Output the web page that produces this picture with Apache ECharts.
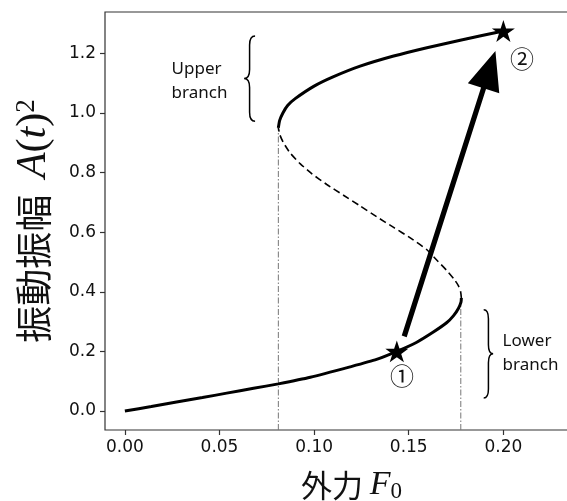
<!DOCTYPE html>
<html>
<head>
<meta charset="utf-8">
<script src="https://cdn.jsdelivr.net/npm/echarts@6/dist/echarts.min.js"></script>
<style>
html,body{margin:0;padding:0;background:#fff;overflow:hidden;width:567px;height:501px;}
#chart{width:598px;height:501px;}
</style>
</head>
<body>
<div id="chart"></div>
<script>
// ---- data ----
const xTickValues = [0, 0.05, 0.10, 0.15, 0.20];
const yTickValues = [0, 0.2, 0.4, 0.6, 0.8, 1.0, 1.2];

// stable lower branch (F0, A^2)
const lowerBranch = [
  [0.0000, 0.000], [0.0140, 0.015], [0.0273, 0.030], [0.0410, 0.045],
  [0.0538, 0.060], [0.0680, 0.076], [0.0811, 0.091], [0.0980, 0.113],
  [0.1190, 0.148], [0.1330, 0.173], [0.1437, 0.200], [0.1540, 0.230],
  [0.1630, 0.265], [0.1700, 0.296], [0.1737, 0.320], [0.1763, 0.345],
  [0.1776, 0.365], [0.1778, 0.379]
];
// unstable middle branch (dashed)
const middleBranch = [
  [0.1778, 0.379], [0.1774, 0.400], [0.1762, 0.421], [0.1740, 0.442],
  [0.1700, 0.472], [0.1650, 0.505], [0.1596, 0.541], [0.1510, 0.580],
  [0.1420, 0.616], [0.1330, 0.652], [0.1243, 0.688], [0.1155, 0.724],
  [0.1067, 0.760], [0.0990, 0.795], [0.0926, 0.830], [0.0873, 0.866],
  [0.0838, 0.900], [0.0820, 0.925], [0.0811, 0.950]
];
// stable upper branch
const upperBranch = [
  [0.0811, 0.950], [0.0818, 0.975], [0.0835, 1.000], [0.0860, 1.025],
  [0.0900, 1.048], [0.1000, 1.090], [0.1100, 1.121], [0.1243, 1.157],
  [0.1420, 1.191], [0.1596, 1.219], [0.1772, 1.244], [0.2000, 1.275]
];
// jump thresholds: [F0, A^2 at the turning point]
const thresholdLines = [[0.0811, 0.950], [0.1775, 0.379]];
// star markers
const starPoints = [[0.1437, 0.200], [0.2000, 1.275]];
// circled numbers
const circledText = ['\u2460', '\u2461'];
const circledPos = [[0.1464, 0.118], [0.2099, 1.182]];
// jump arrow [x0, y0, xTip, yTip]
const jumpArrow = [[0.1476, 0.2505, 0.1958, 1.2075]];
// braces [xEnd, yTop, yBottom, xTip]
const braces = [[0.0688, 1.258, 0.9725, 0.0630], [0.1896, 0.340, 0.0437, 0.1946]];
// branch annotations
const branchText = ['Upper\nbranch', 'Lower\nbranch'];
const branchPos = [[0.0247, 1.106], [0.1996, 0.194]];

const xMin = -0.0105, xMax = 0.25;
const yMin = -0.06375, yMax = 1.33875;

const chart = echarts.init(document.getElementById('chart'), null, {renderer: 'canvas'});

const INK = '#111';
const SPINE = '#333';

const starPath = 'path://M50 0 L61.23 34.55 L97.55 34.55 L68.17 55.9 L79.39 90.45 L50 69.1 L20.61 90.45 L31.83 55.9 L2.45 34.55 L38.77 34.55 Z';

const thresholdSeries = thresholdLines.map(function (t) {
  return {
    type: 'line', data: [[t[0], yMin], [t[0], t[1]]], symbol: 'none', silent: true, z: 1,
    lineStyle: {color: '#777', width: 1, type: [6, 2, 1.5, 2]}
  };
});

const option = {
  animation: false,
  backgroundColor: '#fff',
  grid: {left: 105, top: 12, bottom: 71, right: 0, outerBoundsMode: 'none', containLabel: false,
         show: true, borderColor: SPINE, borderWidth: 1.2, backgroundColor: 'transparent'},
  xAxis: {
    type: 'value', min: xMin, max: xMax,
    axisLine: {show: false, onZero: false},
    splitLine: {show: false},
    axisTick: {show: true, customValues: xTickValues, length: 5, lineStyle: {color: SPINE, width: 1.2}},
    axisLabel: {customValues: xTickValues, margin: 9, color: INK, fontFamily: 'DejaVu Sans', fontSize: 17,
      formatter: function (v) { return v.toFixed(2); }},
    name: '{c|外力 }{m|F}{s|0}',
    nameLocation: 'middle', nameGap: 37,
    nameTextStyle: {
      rich: {
        c: {fontFamily: 'Noto Sans CJK JP', fontSize: 31, color: INK, lineHeight: 36},
        m: {fontFamily: 'Liberation Serif', fontStyle: 'italic', fontSize: 34, color: INK, lineHeight: 36},
        s: {fontFamily: 'Liberation Serif', fontSize: 23, color: INK, verticalAlign: 'bottom', lineHeight: 10}
      }
    }
  },
  yAxis: {
    type: 'value', min: yMin, max: yMax,
    axisLine: {show: false, onZero: false},
    splitLine: {show: false},
    axisTick: {show: true, customValues: yTickValues, length: 5, lineStyle: {color: SPINE, width: 1.2}},
    axisLabel: {customValues: yTickValues, margin: 9, color: INK, fontFamily: 'DejaVu Sans', fontSize: 17,
      formatter: function (v) { return v.toFixed(1); }},
    name: '{c|振動振幅  }{m|A}{r|(}{m|t}{r|)}{p|2}',
    nameLocation: 'middle', nameGap: 50, nameRotate: 90,
    nameTextStyle: {
      rich: {
        c: {fontFamily: 'Noto Sans CJK JP', fontSize: 37, color: INK, lineHeight: 42},
        m: {fontFamily: 'Liberation Serif', fontStyle: 'italic', fontSize: 42, color: INK, lineHeight: 42},
        r: {fontFamily: 'Liberation Serif', fontSize: 42, color: INK, lineHeight: 42},
        p: {fontFamily: 'Liberation Serif', fontSize: 27, color: INK, verticalAlign: 'top', lineHeight: 20}
      }
    }
  },
  series: thresholdSeries.concat([
    {type: 'line', data: lowerBranch, symbol: 'none', smooth: 0.2, z: 3,
     lineStyle: {color: '#000', width: 3}},
    {type: 'line', data: middleBranch, symbol: 'none', smooth: 0.2, z: 3,
     lineStyle: {color: '#000', width: 1.6, type: [7, 4]}},
    {type: 'line', data: upperBranch, symbol: 'none', smooth: 0.2, z: 3,
     lineStyle: {color: '#000', width: 3}},
    {type: 'custom', data: jumpArrow, z: 5, clip: false,
     renderItem: function (params, api) {
       const p0 = api.coord([api.value(0), api.value(1)]);
       const p1 = api.coord([api.value(2), api.value(3)]);
       const dx = p1[0] - p0[0], dy = p1[1] - p0[1];
       const L = Math.sqrt(dx * dx + dy * dy);
       const ux = dx / L, uy = dy / L, nx = -uy, ny = ux;
       const headLen = 39, headW = 16.5, shaftW = 2.6;
       const bx = p1[0] - ux * headLen, by = p1[1] - uy * headLen;
       const pts = [
         [p0[0] + nx * shaftW, p0[1] + ny * shaftW],
         [bx + nx * shaftW, by + ny * shaftW],
         [bx + nx * headW, by + ny * headW],
         [p1[0], p1[1]],
         [bx - nx * headW, by - ny * headW],
         [bx - nx * shaftW, by - ny * shaftW],
         [p0[0] - nx * shaftW, p0[1] - ny * shaftW]
       ];
       return {type: 'polygon', shape: {points: pts}, style: {fill: '#000', stroke: null}};
     }},
    {type: 'custom', data: braces, z: 4, clip: false,
     renderItem: function (params, api) {
       const top = api.coord([api.value(0), api.value(1)]);
       const bot = api.coord([api.value(0), api.value(2)]);
       const tip = api.coord([api.value(3), api.value(1)]);
       const xe = top[0], xt = tip[0], xm = (xe + xt) / 2;
       const yt = top[1], yb = bot[1], ym = (yt + yb) / 2, r = 9;
       const d = 'M' + xe + ' ' + yt +
         ' Q' + xm + ' ' + yt + ' ' + xm + ' ' + (yt + r) +
         ' L' + xm + ' ' + (ym - r) +
         ' Q' + xm + ' ' + ym + ' ' + xt + ' ' + ym +
         ' Q' + xm + ' ' + ym + ' ' + xm + ' ' + (ym + r) +
         ' L' + xm + ' ' + (yb - r) +
         ' Q' + xm + ' ' + yb + ' ' + xe + ' ' + yb;
       return {type: 'path', shape: {pathData: d}, style: {fill: null, stroke: '#000', lineWidth: 1.5}};
     }},
    {type: 'custom', data: branchPos, z: 4, clip: false,
     renderItem: function (params, api) {
       const p = api.coord([api.value(0), api.value(1)]);
       return {type: 'text', x: p[0], y: p[1],
         style: {text: branchText[params.dataIndex], fill: '#111', fontFamily: 'Noto Sans', fontSize: 17,
                 lineHeight: 24, align: 'left', verticalAlign: 'middle'}};
     }},
    {type: 'custom', data: circledPos, z: 4, clip: false,
     renderItem: function (params, api) {
       const p = api.coord([api.value(0), api.value(1)]);
       return {type: 'text', x: p[0], y: p[1],
         style: {text: circledText[params.dataIndex], fill: '#111', fontFamily: 'Noto Sans CJK JP', fontSize: 24,
                 align: 'center', verticalAlign: 'middle'}};
     }},
    {type: 'scatter', data: starPoints, symbol: starPath, symbolSize: 23, symbolKeepAspect: true, z: 6,
     itemStyle: {color: '#000', opacity: 1}}
  ])
};

chart.setOption(option);
</script>
</body>
</html>
